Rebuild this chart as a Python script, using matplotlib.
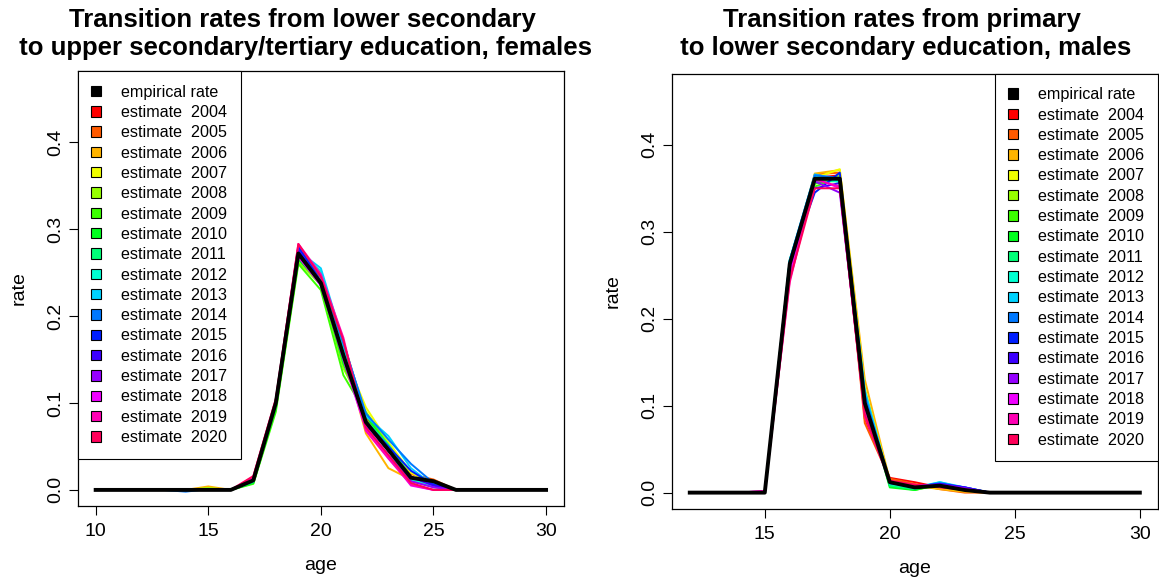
import matplotlib
matplotlib.use("Agg")
import matplotlib.pyplot as plt
from matplotlib.patches import Patch

plt.rcParams['font.family'] = ['Liberation Sans', 'DejaVu Sans']

years = list(range(2004, 2021))
colors = ['#FF0000', '#FF5A00', '#FFB400', '#F0FF00', '#96FF00', '#3CFF00',
          '#00FF1E', '#00FF78', '#00FFD2', '#00D2FF', '#0078FF', '#001EFF',
          '#3C00FF', '#9600FF', '#F000FF', '#FF00B4', '#FF005A']

# left panel: lower secondary -> upper secondary/tertiary, females (ages 10..30)
ages_f = list(range(10, 31))
emp_f = [0, 0, 0, 0, 0, 0, 0, 0.011, 0.100, 0.272, 0.238, 0.155, 0.078, 0.046,
         0.014, 0.010, 0, 0, 0, 0, 0]
est_f = [
    [0, 0, 0, 0, 0, 0.001, 0, 0.010, 0.100, 0.280, 0.245, 0.170, 0.085, 0.045, 0.012, 0.008, 0, 0, 0, 0, 0],
    [0, 0, 0, 0, 0, 0.001, 0, 0.010, 0.098, 0.276, 0.243, 0.165, 0.082, 0.048, 0.018, 0.012, 0, 0, 0, 0, 0],
    [0, 0, 0, 0, 0, 0.004, 0, 0.009, 0.096, 0.270, 0.240, 0.160, 0.065, 0.025, 0.012, 0.010, 0, 0, 0, 0, 0],
    [0, 0, 0, 0, 0, 0.002, 0, 0.009, 0.095, 0.268, 0.242, 0.158, 0.095, 0.055, 0.020, 0.006, 0, 0, 0, 0, 0],
    [0, 0, 0, 0, 0, 0.002, 0, 0.008, 0.093, 0.262, 0.236, 0.140, 0.090, 0.052, 0.015, 0.005, 0, 0, 0, 0, 0],
    [0, 0, 0, 0, 0, 0.001, 0, 0.007, 0.090, 0.260, 0.230, 0.132, 0.088, 0.050, 0.012, 0.003, 0, 0, 0, 0, 0],
    [0, 0, 0, 0, 0, 0.001, 0, 0.008, 0.094, 0.265, 0.238, 0.145, 0.086, 0.048, 0.010, 0.004, 0, 0, 0, 0, 0],
    [0, 0, 0, 0, 0, 0.001, 0, 0.009, 0.097, 0.270, 0.250, 0.160, 0.080, 0.052, 0.015, 0.006, 0, 0, 0, 0, 0],
    [0, 0, 0, 0, 0, 0.001, 0, 0.010, 0.099, 0.272, 0.252, 0.165, 0.070, 0.040, 0.012, 0.004, 0, 0, 0, 0, 0],
    [0, 0, 0, 0, -0.001, 0.001, 0, 0.010, 0.100, 0.275, 0.255, 0.170, 0.085, 0.062, 0.025, 0.005, 0, 0, 0, 0, 0],
    [0, 0, 0, 0, -0.002, 0.001, 0, 0.011, 0.101, 0.278, 0.245, 0.168, 0.088, 0.058, 0.030, 0.008, 0, 0, 0, 0, 0],
    [0, 0, 0, 0, 0, 0.001, 0, 0.011, 0.102, 0.280, 0.240, 0.155, 0.078, 0.050, 0.022, 0.006, 0, 0, 0, 0, 0],
    [0, 0, 0, 0, 0, 0, 0, 0.012, 0.101, 0.276, 0.238, 0.155, 0.075, 0.045, 0.015, 0.005, 0, 0, 0, 0, 0],
    [0, 0, 0, 0, 0, 0, 0, 0.012, 0.100, 0.270, 0.235, 0.152, 0.072, 0.040, 0.010, 0.003, 0, 0, 0, 0, 0],
    [0, 0, 0, 0, 0, 0, 0, 0.013, 0.100, 0.268, 0.236, 0.150, 0.070, 0.038, 0.005, 0, 0, 0, 0, 0, 0],
    [0, 0, 0, 0, 0, 0, 0, 0.015, 0.104, 0.283, 0.248, 0.175, 0.068, 0.036, 0.006, 0, 0, 0, 0, 0, 0],
    [0, 0, 0, 0, 0, 0, 0, 0.016, 0.105, 0.283, 0.245, 0.172, 0.072, 0.040, 0.008, 0, 0, 0, 0, 0, 0],
]

# right panel: primary -> lower secondary, males (ages 12..30)
ages_m = list(range(12, 31))
emp_m = [0, 0, 0, 0, 0.263, 0.361, 0.361, 0.103, 0.012, 0.006, 0.008, 0.003,
         0, 0, 0, 0, 0, 0, 0]
est_m = [
    [0, 0, 0, 0, 0.258, 0.362, 0.365, 0.085, 0.017, 0.012, 0.006, 0.002, 0, 0, 0, 0, 0, 0, 0],
    [0, 0, 0, 0, 0.255, 0.366, 0.368, 0.080, 0.016, 0.010, 0.004, 0, 0, 0, 0, 0, 0, 0, 0],
    [0, 0, 0, 0, 0.262, 0.367, 0.371, 0.130, 0.014, 0.008, 0.004, 0.001, 0, 0, 0, 0, 0, 0, 0],
    [0, 0, 0, 0, 0.264, 0.362, 0.372, 0.120, 0.013, 0.007, 0.006, 0.002, 0, 0, 0, 0, 0, 0, 0],
    [0, 0, 0, 0, 0.265, 0.355, 0.365, 0.115, 0.010, 0.004, 0.008, 0.003, 0, 0, 0, 0, 0, 0, 0],
    [0, 0, 0, 0, 0.266, 0.352, 0.362, 0.110, 0.008, 0.003, 0.009, 0.004, 0, 0, 0, 0, 0, 0, 0],
    [0, 0, 0, 0, 0.267, 0.356, 0.360, 0.108, 0.006, 0.003, 0.010, 0.004, 0, 0, 0, 0, 0, 0, 0],
    [0, 0, 0, 0, 0.268, 0.358, 0.358, 0.112, 0.008, 0.004, 0.011, 0.005, 0, 0, 0, 0, 0, 0, 0],
    [0, 0, 0, 0, 0.266, 0.364, 0.357, 0.115, 0.010, 0.005, 0.012, 0.005, 0, 0, 0, 0, 0, 0, 0],
    [0, 0, 0, 0, 0.268, 0.366, 0.360, 0.118, 0.011, 0.006, 0.012, 0.006, 0, 0, 0, 0, 0, 0, 0],
    [0, 0, 0, 0, 0.267, 0.365, 0.362, 0.112, 0.012, 0.006, 0.011, 0.006, 0, 0, 0, 0, 0, 0, 0],
    [0, 0, 0, 0, 0.265, 0.345, 0.368, 0.105, 0.011, 0.007, 0.010, 0.006, 0, 0, 0, 0, 0, 0, 0],
    [0, 0, 0, 0, 0.262, 0.350, 0.356, 0.100, 0.012, 0.007, 0.010, 0.006, 0, 0, 0, 0, 0, 0, 0],
    [0, 0, 0, 0, 0.258, 0.358, 0.345, 0.098, 0.012, 0.008, 0.009, 0.005, 0, 0, 0, 0, 0, 0, 0],
    [0, 0, 0, 0.002, 0.250, 0.362, 0.350, 0.092, 0.013, 0.008, 0.008, 0.004, 0, 0, 0, 0, 0, 0, 0],
    [0, 0, 0, 0.002, 0.242, 0.360, 0.352, 0.088, 0.013, 0.009, 0.007, 0.003, 0, 0, 0, 0, 0, 0, 0],
    [0, 0, 0, 0, 0.245, 0.350, 0.350, 0.090, 0.014, 0.009, 0.006, 0.003, 0, 0, 0, 0, 0, 0, 0],
]

titles = ['Transition rates from lower secondary\n to upper secondary/tertiary education, females',
          'Transition rates from primary\n to lower secondary education, males']
yticks = [0.0, 0.1, 0.2, 0.3, 0.4]


def draw_panel(ax, ages, emp, est, xticks, legend_loc):
    for vals, c in zip(est, colors):
        ax.plot(ages, vals, color=c, linewidth=1.4)
    ax.plot(ages, emp, color='black', linewidth=2.8)

    span = ages[-1] - ages[0]
    ax.set_xlim(ages[0] - 0.04 * span, ages[-1] + 0.04 * span)
    ax.set_ylim(-0.0185, 0.482)
    ax.set_xticks(xticks)
    ax.set_yticks(yticks)
    ax.set_yticklabels([f'{v:.1f}' for v in yticks], rotation=90, va='center')
    ax.tick_params(direction='out', length=6.5, width=0.8, labelsize=14, pad=3.5)
    ax.tick_params(axis='x', pad=6)
    for s in ax.spines.values():
        s.set_linewidth(0.9)
    ax.set_xlabel('age', fontsize=14, labelpad=12)
    ax.set_ylabel('rate', fontsize=14, labelpad=14)

    handles = [Patch(facecolor='black', edgecolor='black', linewidth=0.8)]
    labels = ['empirical rate']
    for y, c in zip(years, colors):
        handles.append(Patch(facecolor=c, edgecolor='black', linewidth=0.8))
        labels.append(f'estimate  {y}')
    leg = ax.legend(handles, labels, loc=legend_loc, fontsize=11.6, frameon=True,
                    fancybox=False, framealpha=1, edgecolor='black',
                    borderaxespad=0, borderpad=0.85, labelspacing=0.33,
                    handlelength=0.62, handleheight=0.62, handletextpad=1.22)
    leg.get_frame().set_linewidth(0.8)


fig = plt.figure(figsize=(11.59, 5.79), dpi=100)
ax1 = fig.add_axes([0.0670, 0.1261, 0.4197, 0.7513])
ax2 = fig.add_axes([0.5796, 0.1214, 0.4194, 0.7516])

draw_panel(ax1, ages_f, emp_f, est_f, [10, 15, 20, 25, 30], 'upper left')
draw_panel(ax2, ages_m, emp_m, est_m, [15, 20, 25, 30], 'upper right')

fig.text(302 / 1159, 1 - 34 / 579, titles[0], ha='center', va='center',
         fontsize=18.5, fontweight='bold', linespacing=1.18)
fig.text(902 / 1159, 1 - 34 / 579, titles[1], ha='center', va='center',
         fontsize=18.5, fontweight='bold', linespacing=1.18)

fig.savefig('out.png', dpi=100, facecolor='white')
